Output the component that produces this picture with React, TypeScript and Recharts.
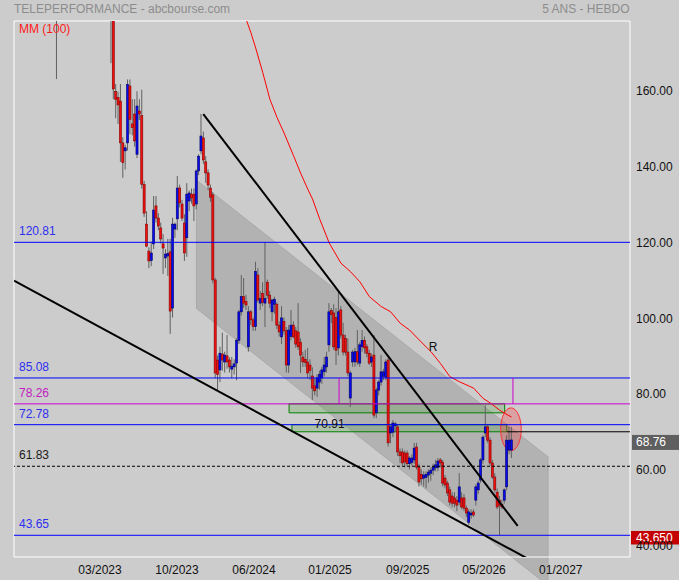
import React from 'react';
import { ComposedChart, Bar, Line, XAxis, YAxis, ReferenceLine, ReferenceArea, ReferenceDot } from 'recharts';

type C = [number, number, number, number, number]; // week, open, high, low, close

const FONT = '"Liberation Sans", Arial, sans-serif';

const candles2022: C[] = [
  [18, 190, 195, 163.8, 186],
  [41, 188, 195, 168, 184],
  [42, 182, 186, 158.5, 161.2],
  [43, 160.5, 162.5, 153.5, 158.5],
  [44, 159, 160.5, 152, 157],
  [45, 158, 162.5, 142, 147],
  [46, 147, 148.5, 137.8, 141.8],
  [47, 144.9, 146.5, 140, 145.7],
  [48, 147, 163.7, 145, 162.4],
  [49, 162, 163.7, 149.3, 153.2],
  [50, 152, 158.5, 149, 151],
  [51, 154.6, 158.5, 146, 147.5],
  [52, 144, 160.6, 143, 156.7],
  [53, 155.4, 158.5, 153, 154.6],
  [54, 154.2, 161, 135, 136.1],
  [55, 136, 137, 127.5, 128.5],
  [56, 125.6, 129, 119.5, 119.8],
  [57, 118.5, 119.5, 114, 115.9],
  [58, 116, 121, 114.5, 118],
  [59, 120.4, 133, 119, 129.3],
  [60, 130.4, 133, 126, 127.2],
];

const candles2023: C[] = [
  [61, 127.2, 128.5, 124, 125.1],
  [62, 124.6, 126, 120.5, 121.7],
  [63, 120.4, 123, 112.5, 119.3],
  [64, 116.7, 119, 114, 117.7],
  [65, 117.2, 121.7, 112, 117.9],
  [66, 118.3, 121.7, 96.7, 102.7],
  [67, 103.5, 127.3, 101, 125.6],
  [68, 124.3, 126, 122, 125.6],
  [69, 127, 138.3, 124, 135.1],
  [70, 135.1, 136, 130, 131.2],
  [71, 130.9, 132, 126.4, 127.2],
  [72, 125.9, 128.2, 115.9, 118],
  [73, 122, 136.4, 117, 133.5],
  [74, 131.7, 134.5, 129, 133.8],
  [75, 133.5, 135, 131, 132.5],
  [76, 133.5, 135, 126.4, 130.4],
  [77, 130.9, 140, 129.5, 139.6],
  [78, 139.6, 144, 138.5, 143.5],
  [79, 144.9, 154.6, 144, 148.8],
  [80, 148.3, 150, 141.5, 142.5],
  [81, 142, 143.5, 136.5, 139.1],
  [82, 139.1, 140, 134.5, 135.9],
  [83, 135.1, 136, 131.5, 132.7],
  [84, 133.3, 134, 110, 110.9],
  [85, 110.9, 111.5, 85, 86.4],
  [86, 89.8, 91, 81.9, 86],
  [87, 87.2, 93.3, 84, 91.6],
  [88, 91.4, 97, 87, 89.8],
  [89, 89.3, 92, 86.5, 91.1],
  [90, 90.9, 96.4, 87.5, 89.3],
  [91, 89.8, 90.5, 86.5, 88],
  [92, 87.4, 90.6, 85, 88.2],
  [93, 88, 90, 86, 88.8],
  [94, 89, 95.5, 84.5, 95],
  [95, 95, 103, 94, 102.5],
  [96, 102.5, 112.2, 101.5, 106.5],
  [97, 106.5, 111.4, 103.5, 104.8],
  [98, 105.2, 107, 103, 104.3],
  [99, 93.3, 104, 92, 102.5],
  [100, 102.5, 103, 99, 100.4],
];

const candles2024: C[] = [
  [101, 100.4, 101, 97.5, 98.6],
  [102, 98.6, 115.7, 97.5, 113.1],
  [103, 112.2, 114, 105, 105.6],
  [104, 104.8, 108, 103, 106],
  [105, 107.4, 110.3, 104, 105],
  [106, 104.8, 120.8, 98.5, 106],
  [107, 110.3, 111, 106, 106.9],
  [108, 106.9, 108, 103.5, 104.8],
  [109, 102.5, 106, 100, 105.6],
  [110, 104.5, 106.5, 102, 105.8],
  [111, 104.5, 105, 98, 99],
  [112, 99, 100, 96, 97.2],
  [113, 95.9, 104, 94, 100.9],
  [114, 100, 101, 96.5, 97.5],
  [115, 97.5, 98.5, 86.5, 88.5],
  [116, 88.5, 99, 86.4, 97.7],
  [117, 96, 103, 95, 99],
  [118, 99, 100, 95.5, 95.9],
  [119, 97.5, 98.5, 93, 94],
  [120, 97.2, 104.8, 92.5, 93.3],
  [121, 94.5, 95.5, 86.4, 91.1],
  [122, 90.6, 92, 88, 89.3],
  [123, 90, 92.5, 88, 89.2],
  [124, 89.3, 93, 85, 86.4],
  [125, 88.5, 90, 84.5, 87],
  [126, 85.6, 87.9, 79.3, 82.4],
  [127, 83, 85, 80.5, 81.7],
  [128, 82.4, 86, 80.1, 85.1],
  [129, 84, 87, 82, 86],
  [130, 85.1, 88, 83.5, 87.2],
  [131, 86.7, 90.6, 85.5, 88.5],
  [132, 88, 92, 86.5, 90.6],
  [133, 93.8, 104.8, 92, 102.5],
  [134, 102.8, 103.5, 99.5, 101.8],
  [135, 102.2, 104.5, 92.5, 93.3],
  [136, 101, 103.5, 88.5, 92.4],
  [137, 93, 108.2, 91, 102.5],
  [138, 103, 104, 95.5, 96.4],
  [139, 96.4, 99.6, 91, 91.9],
  [140, 95.5, 96.5, 91, 91.9],
  [141, 91.9, 95.5, 85.5, 86.4],
  [142, 79.8, 87, 77.4, 86.4],
  [143, 89.3, 92.5, 88, 91.9],
  [144, 89.3, 93, 88, 92],
  [145, 92, 97.7, 88.5, 89.3],
  [146, 89, 94.5, 88, 93.8],
  [147, 93.3, 97.7, 92, 95],
  [148, 95, 96, 91.5, 93],
  [149, 93.3, 94, 90.5, 91.6],
  [150, 91.6, 92.5, 88.5, 89],
];

const candles2025: C[] = [
  [151, 89.3, 91.5, 88, 90.6],
  [152, 91.1, 96.4, 74.5, 75.3],
  [153, 75.9, 82.5, 74.5, 81.9],
  [154, 81.9, 84.5, 80.5, 84],
  [155, 84, 91.1, 83, 86.7],
  [156, 85.5, 87.5, 84.5, 86.7],
  [157, 85.3, 90, 84.5, 89.3],
  [158, 89.8, 90.5, 67, 68],
  [159, 70.6, 72.5, 67.9, 72.2],
  [160, 70.8, 74, 69.5, 73.2],
  [161, 72.5, 73.5, 71, 73],
  [162, 72.2, 73, 64.5, 65.6],
  [163, 65.6, 66.5, 62.7, 64.6],
  [164, 65.6, 66.5, 62, 62.7],
  [165, 65.3, 66, 61.5, 63],
  [166, 65.3, 66, 62, 62.5],
  [167, 62.5, 64.5, 61, 64],
  [168, 62.8, 65, 62, 64],
  [169, 63.5, 68, 62.5, 66.6],
  [170, 66.9, 68, 61, 61.6],
  [171, 61.6, 62.5, 56.5, 57.7],
  [172, 59.7, 61, 57, 58.5],
  [173, 58.7, 60.5, 56.5, 59.5],
  [174, 58.9, 60.5, 56, 59.7],
  [175, 59.5, 61, 57.5, 60.3],
  [176, 60, 61.5, 58, 60.8],
  [177, 60.8, 62.5, 59.5, 61.6],
  [178, 61.4, 63.5, 60.5, 62.2],
  [179, 61.5, 64, 60.5, 63.2],
  [180, 63.5, 64, 61.5, 62.7],
  [181, 62.9, 63.5, 56.5, 57.4],
  [182, 58.7, 59.5, 56, 56.9],
  [183, 57.4, 58, 54, 54.8],
  [184, 55.6, 56.5, 51.5, 52.4],
  [185, 54, 55, 51, 52.1],
  [186, 53.5, 55, 51, 52.1],
  [187, 52.9, 54, 50, 51.6],
  [188, 52.4, 60, 51.5, 56.4],
  [189, 53.5, 55, 50.5, 51.1],
  [190, 53.5, 54.5, 50, 50.8],
];

const candles2026: C[] = [
  [191, 50.8, 51.5, 48.5, 49.5],
  [192, 47.1, 50.5, 46.4, 49.8],
  [193, 49, 50.5, 48, 49.5],
  [194, 49.8, 50.5, 48.5, 49],
  [195, 52.9, 57, 51.5, 56.4],
  [196, 55.6, 58, 54.5, 57.4],
  [197, 58.2, 64, 57.5, 63.5],
  [198, 63.5, 70, 62.5, 69.5],
  [199, 70.6, 77.9, 69.5, 72.2],
  [200, 72.2, 73, 68, 68.7],
  [201, 68.7, 69.5, 62, 62.7],
  [202, 62.7, 63.5, 58.5, 59],
  [203, 59, 60, 55, 55.6],
  [204, 55, 56, 50.5, 51.1],
  [205, 52.9, 54, 43.65, 51.6],
  [206, 51.8, 53, 50.5, 51.1],
  [207, 52.9, 56, 52, 55.6],
  [208, 56.4, 70, 55.5, 68.7],
  [209, 66.1, 72.2, 65, 68.7],
  [210, 66.1, 72.2, 64, 68.76],
];

// Moving average (100): [week, value]
const maPoints: [number, number][] = [
  [96, 184], [98, 179.5], [100, 176], [102, 172], [105, 165.5], [108, 158.5], [111, 153.7],
  [114, 149.6], [118, 143.6], [121, 139], [124, 134.8], [126, 132.2], [129, 127], [133, 120.7],
  [138, 115.3], [142, 113.1], [146, 110.4], [150, 106.5], [155, 103.9], [159, 102.5], [163, 99.5],
  [167, 97.7], [171, 95.1], [176, 92.0], [180, 88.9], [184, 85.4], [188, 84.1], [194, 82.4],
  [198, 79.7], [201, 78.5], [205, 76.6], [207, 75.8], [210, 74.8],
];

const xTickWeeks = [36.3, 68.8, 101.3, 133.4, 166.2, 198.4, 230.8];
const xTickLabels = ['03/2023', '10/2023', '06/2024', '01/2025', '09/2025', '05/2026', '01/2027'];
const yTicks = [40, 60, 80, 100, 120, 140, 160];
const yTickLabels = ['40.000', '60.00', '80.00', '100.00', '120.00', '140.00', '160.00'];

const levelValues = [120.81, 85.08, 78.26, 72.78, 61.83, 43.65];
const levelLabels = ['120.81', '85.08', '78.26', '72.78', '61.83', '43.65'];
const levelColors = ['#0000ff', '#0000ff', '#cc00cc', '#0000ff', '#000000', '#0000ff'];
const levelTextColors = ['#2e2ef0', '#2e2ef0', '#c21cc2', '#2e2ef0', '#1a1a1a', '#2e2ef0'];
const levelDash = ['', '', '', '', '3 2', ''];

const channel = { left: 77.0, right: 225.4, upL: 137.2, upR: 64.3, loL: 103.4, loR: 30.4 };
const trend1 = [{ x: 79.9, y: 154.6 }, { x: 212.6, y: 46.1 }];
const trend2 = [{ x: 0, y: 110.7 }, { x: 222, y: 35.75 }];
const box1 = { x1: 116.1, x2: 207.1, y1: 75.9, y2: 78.26 };
const box2 = { x1: 117.3, x2: 208.0, y1: 70.91, y2: 72.78 };
const ellipseArea = { x1: 205.4, x2: 214.1, y1: 65.9, y2: 77.2 };
const lastClose = 68.76;
const lowLevel = 43.65;
const Y_MIN = 37.93;
const Y_MAX = 179.1;
const X_MAX = 260;

const maMap = new Map<number, number>(maPoints);
const rows = [...candles2022, ...candles2023, ...candles2024, ...candles2025, ...candles2026].map(
  ([i, o, h, l, c]) => ({ i, o, h, l, c, range: [l, h], ma: maMap.has(i) ? maMap.get(i) : null })
);

const Candle = (props: any) => {
  const { x, y, width, height } = props;
  const d = props.payload ?? props;
  if (d == null || d.o == null || x == null || y == null) return null;
  const { o, h, l, c } = d;
  const top = Math.min(y, y + height);
  const bottom = Math.max(y, y + height);
  const cx = x + width / 2;
  const span = h - l;
  const py = (v: number) => (span > 0 ? top + ((h - v) / span) * (bottom - top) : top);
  const up = c >= o;
  const bt = py(Math.max(o, c));
  const bb = py(Math.min(o, c));
  const bh = Math.max(1, bb - bt);
  return (
    <g>
      <line x1={cx} x2={cx} y1={top} y2={bottom} stroke="#606060" strokeWidth={1} />
      <rect
        x={cx - 1.05}
        y={bt}
        width={2.1}
        height={bh}
        fill={up ? '#0a0af0' : '#ee1111'}
        stroke={up ? '#00006a' : '#8a0000'}
        strokeWidth={0.6}
      />
    </g>
  );
};

const LevelLabel = (props: any) => {
  const { viewBox, text, color } = props;
  if (!viewBox) return null;
  return (
    <text x={viewBox.x + 5} y={viewBox.y - 7} fill={color} fontSize={12} fontFamily={FONT}>
      {text}
    </text>
  );
};

const ChannelShape = (p: any) => {
  const top = Math.min(p.y, p.y + p.height);
  const h = Math.abs(p.height);
  const left = Math.min(p.x, p.x + p.width);
  const w = Math.abs(p.width);
  const py = (v: number) => top + ((channel.upL - v) / (channel.upL - channel.loR)) * h;
  const pts = `${left},${py(channel.upL)} ${left + w},${py(channel.upR)} ${left + w},${py(channel.loR)} ${left},${py(channel.loL)}`;
  return <polygon points={pts} fill="#8c8c8c" fillOpacity={0.4} stroke="#a9a9a9" strokeWidth={1} />;
};

const EllipseShape = (p: any) => {
  const cx = p.x + p.width / 2;
  const cy = p.y + p.height / 2;
  return (
    <ellipse cx={cx} cy={cy} rx={Math.abs(p.width) / 2} ry={Math.abs(p.height) / 2}
      fill="#ff2020" fillOpacity={0.25} stroke="#ff3030" strokeWidth={1} />
  );
};

const YTick = (props: any) => {
  const idx = yTicks.indexOf(props.payload?.value);
  return (
    <text x={636} y={props.y + 1.2} fill="#111" fontSize={12} fontFamily={FONT} textAnchor="start">
      {idx >= 0 ? yTickLabels[idx] : ''}
    </text>
  );
};

const XTick = (props: any) => {
  const idx = xTickWeeks.indexOf(props.payload?.value);
  return (
    <text x={props.x} y={574.2} fill="#111" fontSize={12} fontFamily={FONT} textAnchor="middle">
      {idx >= 0 ? xTickLabels[idx] : ''}
    </text>
  );
};

export default function App() {
  return (
    <div style={{ position: 'absolute', left: 0, top: 0, width: 679, height: 580, background: '#cccccc', overflow: 'hidden' }}>
      <ComposedChart width={679} height={580} data={rows} margin={{ top: 21, right: 0, bottom: 0, left: 14 }}>
        <XAxis type="number" dataKey="i" domain={[0, X_MAX]} ticks={xTickWeeks} tick={<XTick />}
          axisLine={false} tickLine={false} height={23} allowDataOverflow interval={0} />
        <YAxis orientation="right" width={49} domain={[Y_MIN, Y_MAX]} ticks={yTicks} tick={<YTick />}
          axisLine={false} tickLine={false} allowDataOverflow interval={0} />

        <ReferenceArea x1={channel.left} x2={channel.right} y1={channel.loR} y2={channel.upL}
          ifOverflow="hidden" shape={(p: any) => <ChannelShape {...p} />} />

        <Bar dataKey="range" shape={(p: any) => <Candle {...p} />} barSize={2} isAnimationActive={false} />
        <Line dataKey="ma" type="linear" stroke="#ff0000" strokeWidth={1} dot={false} connectNulls
          isAnimationActive={false} />

        {levelValues.map((v, k) => (
          <ReferenceLine key={'lv' + k} y={v} stroke={levelColors[k]} strokeWidth={1}
            strokeDasharray={levelDash[k] || undefined}
            label={<LevelLabel text={levelLabels[k]} color={levelTextColors[k]} />} />
        ))}

        <ReferenceLine segment={[{ x: 137.2, y: 78.26 }, { x: 137.2, y: 85.08 }]} stroke="#cc00cc" strokeWidth={1} ifOverflow="hidden" />
        <ReferenceLine segment={[{ x: 210.6, y: 78.26 }, { x: 210.6, y: 85.08 }]} stroke="#cc00cc" strokeWidth={1} ifOverflow="hidden" />
        <ReferenceLine segment={[{ x: box2.x2, y: 70.91 }, { x: X_MAX, y: 70.91 }]} stroke="#000" strokeWidth={1} ifOverflow="hidden" />

        <ReferenceLine segment={trend1} stroke="#000" strokeWidth={2} ifOverflow="hidden" />
        <ReferenceLine segment={trend2} stroke="#000" strokeWidth={2} ifOverflow="hidden" />

        <ReferenceArea x1={box1.x1} x2={box1.x2} y1={box1.y1} y2={box1.y2} fill="#3a9a2a" fillOpacity={0.22}
          stroke="#008000" strokeWidth={1} ifOverflow="hidden" />
        <ReferenceArea x1={box2.x1} x2={box2.x2} y1={box2.y1} y2={box2.y2} fill="#3a9a2a" fillOpacity={0.22}
          stroke="#008000" strokeWidth={1} ifOverflow="hidden" />

        <ReferenceDot x={133.2} y={73.1} r={1} ifOverflow="visible"
          shape={(p: any) => (
            <text x={p.cx} y={p.cy + 4.2} textAnchor="middle" fontSize={12} fontFamily={FONT} fill="#111">70.91</text>
          )} />
        <ReferenceDot x={176.9} y={93.3} r={1} ifOverflow="visible"
          shape={(p: any) => (
            <text x={p.cx} y={p.cy + 4.2} textAnchor="middle" fontSize={12} fontFamily={FONT} fill="#111">R</text>
          )} />

        <ReferenceArea x1={ellipseArea.x1} x2={ellipseArea.x2} y1={ellipseArea.y1} y2={ellipseArea.y2}
          ifOverflow="hidden" shape={(p: any) => <EllipseShape {...p} />} />

        <ReferenceArea x1={0} x2={X_MAX} y1={Y_MIN} y2={Y_MAX} fill="none" fillOpacity={0} stroke="#ffffff"
          strokeWidth={1} ifOverflow="visible" />

        <ReferenceDot x={X_MAX} y={lastClose} r={1} ifOverflow="visible"
          shape={(p: any) => (
            <g>
              <rect x={p.cx + 2} y={p.cy - 5} width={49} height={15} fill="#5f5f5f" />
              <text x={p.cx + 6} y={p.cy + 6.5} fontSize={12} fontFamily={FONT} fill="#ffffff">68.76</text>
            </g>
          )} />
        <ReferenceDot x={X_MAX} y={lowLevel} r={1} ifOverflow="visible"
          shape={(p: any) => (
            <g>
              <rect x={p.cx + 1} y={p.cy - 4.3} width={50} height={13.5} fill="#c40000" />
              <text x={p.cx + 6} y={p.cy + 6.6} fontSize={12} fontFamily={FONT} fill="#ffffff">43.650</text>
            </g>
          )} />
      </ComposedChart>
      <svg width={679} height={580} style={{ position: 'absolute', left: 0, top: 0, pointerEvents: 'none' }}>
        <text x={14} y={13.3} fontSize={12} fontFamily={FONT} fill="#8c8c8c">TELEPERFORMANCE - abcbourse.com</text>
        <text x={629.5} y={13.3} fontSize={12} fontFamily={FONT} fill="#8c8c8c" textAnchor="end">5 ANS - HEBDO</text>
        <text x={19} y={33.3} fontSize={12} fontFamily={FONT} fill="#ff1a1a">MM (100)</text>
      </svg>
    </div>
  );
}
